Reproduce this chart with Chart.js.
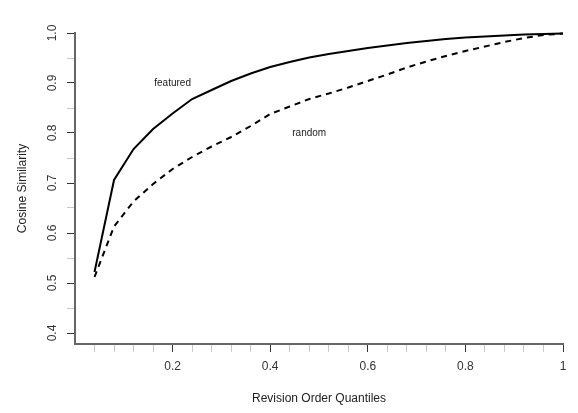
<!DOCTYPE html>
<html>
<head>
<meta charset="utf-8">
<script src="https://cdn.jsdelivr.net/npm/chart.js@4.4.1/dist/chart.umd.min.js"></script>
<style>
  html, body { margin: 0; padding: 0; background: #fff; }
  #wrap { width: 578px; height: 413px; }
</style>
</head>
<body>
<div id="wrap"><canvas id="simChart"></canvas></div>
<script>
const quantiles = [0.04, 0.08, 0.12, 0.16, 0.20, 0.24, 0.28, 0.32, 0.36, 0.40, 0.44, 0.48, 0.52,
  0.56, 0.60, 0.64, 0.68, 0.72, 0.76, 0.80, 0.84, 0.88, 0.92, 0.96, 1.00];
const featured = [0.522, 0.706, 0.768, 0.808, 0.839, 0.868, 0.886, 0.904, 0.919, 0.932, 0.942, 0.951, 0.958,
  0.964, 0.970, 0.975, 0.980, 0.984, 0.988, 0.991, 0.993, 0.995, 0.997, 0.998, 0.999];
const random = [0.512, 0.613, 0.663, 0.698, 0.728, 0.752, 0.773, 0.792, 0.814, 0.838, 0.853, 0.868, 0.879,
  0.891, 0.904, 0.917, 0.931, 0.943, 0.954, 0.964, 0.973, 0.982, 0.990, 0.996, 0.999];

const xTickMarks = [0].concat(quantiles);
const xTickLabels = [0.2, 0.4, 0.6, 0.8, 1];
const yTickMarks = [0.4, 0.45, 0.5, 0.55, 0.6, 0.65, 0.7, 0.75, 0.8, 0.85, 0.9, 0.95, 1.0];
const yTickLabels = [0.4, 0.5, 0.6, 0.7, 0.8, 0.9, 1.0];

const seriesNotes = [
  { text: 'featured', x: 0.2, y: 0.9 },
  { text: 'random', x: 0.48, y: 0.8 }
];

const isIn = (list, v) => list.some(t => Math.abs(t - v) < 1e-6);

const notesPlugin = {
  id: 'notes',
  afterDatasetsDraw(chart) {
    const { ctx, scales: { x, y } } = chart;
    ctx.save();
    ctx.font = '10px "Liberation Sans", Arial, sans-serif';
    ctx.fillStyle = '#222';
    ctx.textAlign = 'center';
    ctx.textBaseline = 'middle';
    seriesNotes.forEach(n => ctx.fillText(n.text, x.getPixelForValue(n.x), y.getPixelForValue(n.y)));
    ctx.restore();
  }
};

const font = { family: '"Liberation Sans", Arial, sans-serif', size: 12 };

new Chart(document.getElementById('simChart'), {
  type: 'line',
  data: {
    datasets: [
      {
        label: 'featured',
        data: quantiles.map((q, i) => ({ x: q, y: featured[i] })),
        borderColor: '#000',
        borderWidth: 2,
        pointRadius: 0,
        tension: 0,
        clip: false
      },
      {
        label: 'random',
        data: quantiles.map((q, i) => ({ x: q, y: random[i] })),
        borderColor: '#000',
        borderWidth: 2,
        borderDash: [6, 5],
        pointRadius: 0,
        tension: 0,
        clip: false
      }
    ]
  },
  options: {
    responsive: true,
    maintainAspectRatio: false,
    animation: false,
    layout: { padding: { top: 33, right: 15, left: 0, bottom: 0 } },
    scales: {
      x: {
        type: 'linear',
        min: 0,
        max: 1,
        afterFit: s => { s.height = 69; },
        afterBuildTicks: s => { s.ticks = xTickMarks.map(v => ({ value: v })); },
        ticks: {
          autoSkip: false,
          maxRotation: 0,
          padding: 7,
          color: '#333',
          font,
          callback: v => (isIn(xTickLabels, v) ? String(Math.round(v * 10) / 10) : '')
        },
        grid: {
          drawOnChartArea: false,
          tickLength: 8,
          color: c => (c.tick && c.tick.value === 0 ? 'rgba(0,0,0,0)' : (c.tick && isIn(xTickLabels, c.tick.value) ? '#333' : '#c8c8c8'))
        },
        border: { display: true, color: '#666', width: 2 },
        title: {
          display: true,
          text: 'Revision Order Quantiles',
          color: '#222',
          font,
          padding: { top: 0, bottom: 7 }
        }
      },
      y: {
        min: 0.378,
        max: 1.0,
        afterFit: s => { s.width = 75; },
        afterBuildTicks: s => { s.ticks = yTickMarks.map(v => ({ value: v })); },
        ticks: {
          autoSkip: false,
          minRotation: 90,
          maxRotation: 90,
          crossAlign: 'center',
          padding: 6,
          color: '#333',
          font,
          callback: v => (isIn(yTickLabels, v) ? v.toFixed(1) : '')
        },
        grid: {
          drawOnChartArea: false,
          tickLength: 8,
          color: c => (c.tick && isIn(yTickLabels, c.tick.value) ? '#333' : '#c8c8c8')
        },
        border: { display: true, color: '#666', width: 2 },
        title: {
          display: true,
          text: 'Cosine Similarity',
          color: '#222',
          font,
          padding: { top: 15, bottom: 0 }
        }
      }
    },
    plugins: {
      legend: { display: false },
      tooltip: { enabled: false }
    }
  },
  plugins: [notesPlugin]
});
</script>
</body>
</html>
